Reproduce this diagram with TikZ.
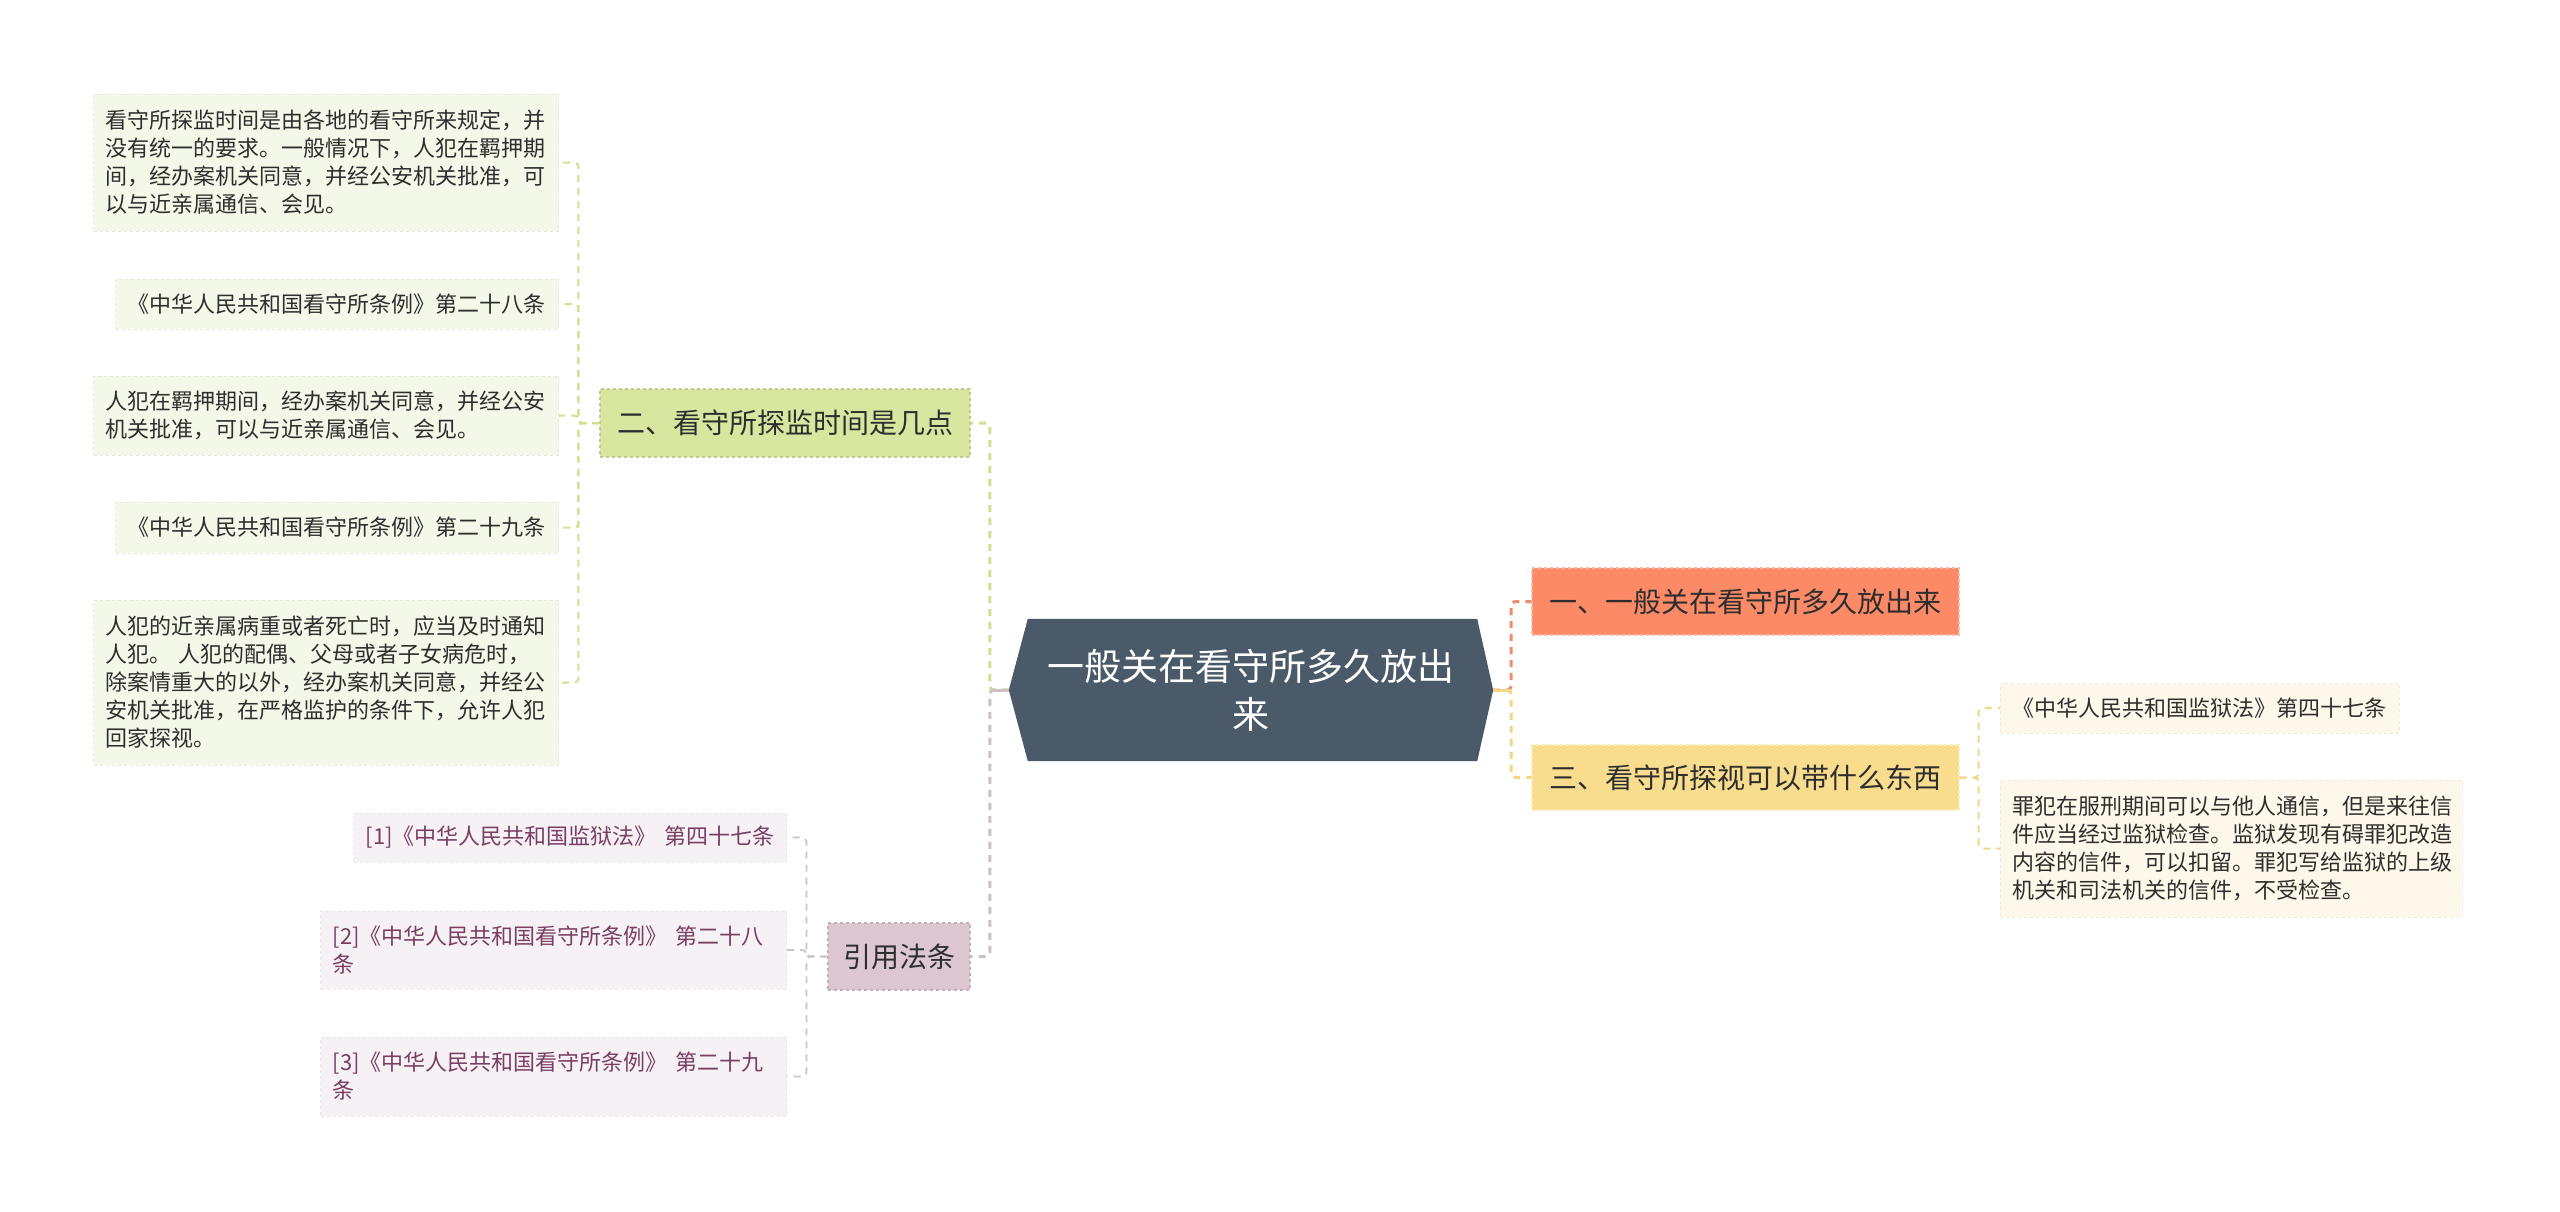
\documentclass[tikz,border=0pt]{standalone}
\usepackage{fontspec}
\newfontfamily\cjk{Noto Sans CJK SC}
\usetikzlibrary{backgrounds}
\definecolor{rootfill}{HTML}{4A5A69}
\definecolor{bAfill}{HTML}{FC8A67}
\definecolor{bBfill}{HTML}{D8E6A0}
\definecolor{bCfill}{HTML}{F8DD8E}
\definecolor{citefill}{HTML}{DCC7D1}
\definecolor{leafG}{HTML}{F4F8E8}
\definecolor{leafY}{HTML}{FDF8E9}
\definecolor{leafP}{HTML}{F6F1F4}
\definecolor{citetxt}{HTML}{7A3E63}
\definecolor{txt}{HTML}{2E2E2E}
\definecolor{lnG}{HTML}{CFE08F}
\definecolor{lnA}{HTML}{EE8B6C}
\definecolor{lnY}{HTML}{F3D583}
\definecolor{lnP}{HTML}{CDBFC6}
\definecolor{lnQ}{HTML}{C9C6C8}
\begin{document}
\begin{tikzpicture}[x=1pt,y=-1pt,
  conn/.style={line width=2pt, dash pattern=on 7pt off 6pt, rounded corners=4pt},
  mainconn/.style={conn, line width=3pt},
  rootnode/.style={rectangle, inner sep=0pt, minimum width=484pt, minimum height=142pt, align=center, text=white, font=\cjk\fontsize{37}{48}\selectfont},
  branch/.style={rectangle, inner sep=0pt, minimum height=67pt, dashed, line width=1.2pt, text=txt, font=\cjk\fontsize{28}{34}\selectfont},
  leaf/.style={rectangle, inner xsep=12pt, inner ysep=0pt, align=left, dashed, line width=0.8pt, text=txt, font=\cjk\fontsize{22}{28}\selectfont},
  gleaf/.style={leaf, fill=leafG, draw=leafG!94!black},
  yleaf/.style={leaf, fill=leafY, draw=leafY!95!black},
  pleaf/.style={leaf, fill=leafP, draw=leafP!95!black, text=citetxt}
]
\begin{scope}[on background layer]
  \fill[white] (0,0) rectangle (2560,1211);
\end{scope}
\useasboundingbox (0,0) rectangle (2560,1211);

% root
\node[rootnode] (root) at (1251,690) {一般关在看守所多久放出\\来};
\begin{scope}[on background layer]
  \fill[rootfill] (root.west) -- ([xshift=19pt]root.north west) -- ([xshift=-16pt]root.north east) -- (root.east) -- ([xshift=-16pt]root.south east) -- ([xshift=19pt]root.south west) -- cycle;
\end{scope}

% branches
\node[branch, fill=bBfill, draw=bBfill!88!black, minimum width=370pt, minimum height=68pt] (b2) at (785,423) {二、看守所探监时间是几点};
\node[branch, fill=citefill, draw=citefill!88!black, minimum width=142pt] (cite) at (899,956.5) {引用法条};
\node[branch, fill=bAfill, draw=bAfill!60!white, minimum width=427pt] (b1) at (1745.5,601.5) {一、一般关在看守所多久放出来};
\node[branch, fill=bCfill, draw=bCfill!60!white, minimum width=427pt, minimum height=65pt] (b3) at (1745.5,777.5) {三、看守所探视可以带什么东西};

% left leaves
\node[gleaf, anchor=east, text width=441pt, minimum height=137pt] (l1) at (559,162.5) {看守所探监时间是由各地的看守所来规定，并\\没有统一的要求。一般情况下，人犯在羁押期\\间，经办案机关同意，并经公安机关批准，可\\以与近亲属通信、会见。};
\node[gleaf, anchor=east, text width=419pt, minimum height=50pt] (l2) at (559,304) {《中华人民共和国看守所条例》第二十八条};
\node[gleaf, anchor=east, text width=441pt, minimum height=79pt] (l3) at (559,415.5) {人犯在羁押期间，经办案机关同意，并经公安\\机关批准，可以与近亲属通信、会见。};
\node[gleaf, anchor=east, text width=419pt, minimum height=51pt] (l4) at (559,527.5) {《中华人民共和国看守所条例》第二十九条};
\node[gleaf, anchor=east, text width=441pt, minimum height=165pt] (l5) at (559,682.5) {人犯的近亲属病重或者死亡时，应当及时通知\\人犯。 人犯的配偶、父母或者子女病危时，\\除案情重大的以外，经办案机关同意，并经公\\安机关批准，在严格监护的条件下，允许人犯\\回家探视。};

% citations
\node[pleaf, anchor=east, text width=409pt, minimum height=49pt] (c1) at (787,837.5) {[1]《中华人民共和国监狱法》 第四十七条};
\node[pleaf, anchor=east, text width=442pt, minimum height=78pt] (c2) at (787,950) {[2]《中华人民共和国看守所条例》 第二十八\\条};
\node[pleaf, anchor=east, text width=442pt, minimum height=79pt] (c3) at (787,1076.5) {[3]《中华人民共和国看守所条例》 第二十九\\条};

% right leaves
\node[yleaf, anchor=west, text width=375pt, minimum height=50pt] (r1) at (2000,708) {《中华人民共和国监狱法》第四十七条};
\node[yleaf, anchor=west, text width=438pt, minimum height=137pt] (r2) at (2000,848.5) {罪犯在服刑期间可以与他人通信，但是来往信\\件应当经过监狱检查。监狱发现有碍罪犯改造\\内容的信件，可以扣留。罪犯写给监狱的上级\\机关和司法机关的信件，不受检查。};

% connectors
\draw[mainconn, lnG] (root.west) -- ++(-19,0) |- (b2.east);
\draw[mainconn, lnP] (root.west) -- ++(-19,0) |- (cite.east);
\draw[mainconn, lnA] (root.east) -- ++(18,0) |- (b1.west);
\draw[mainconn, lnY] (root.east) -- ++(18,0) |- (b3.west);
\draw[line width=3pt, lnP] (root.west) -- ++(-19,0);
\draw[line width=3pt, lnY] (root.east) -- ++(18,0);

\foreach \n in {l1,l2,l3,l4,l5}
  \draw[conn, lnG] (b2.west) -- ++(-21,0) |- (\n.east);
\foreach \n in {c1,c2,c3}
  \draw[conn, lnQ, line width=1.8pt] (cite.west) -- ++(-21,0) |- (\n.east);
\foreach \n in {r1,r2}
  \draw[conn, lnY] (b3.east) -- ++(19,0) |- (\n.west);
\end{tikzpicture}
\end{document}
